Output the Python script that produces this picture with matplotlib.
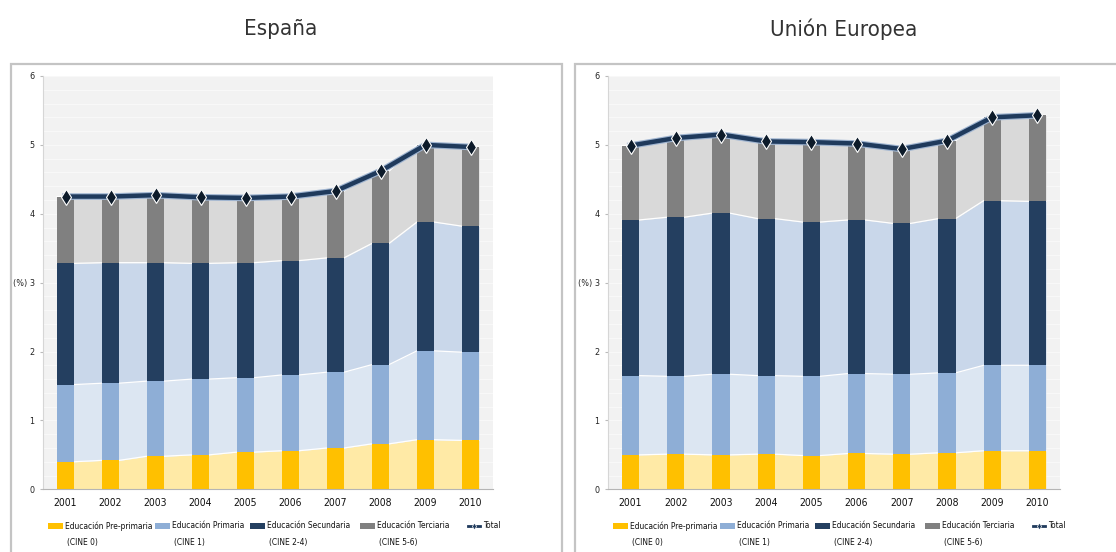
import numpy as np
import matplotlib.pyplot as plt
import matplotlib.patheffects as pe
from matplotlib.patches import Rectangle
from matplotlib.lines import Line2D

plt.rcParams['font.family'] = ['DejaVu Sans']
plt.rcParams['font.stretch'] = 'condensed'

years = ['2001', '2002', '2003', '2004', '2005', '2006', '2007', '2008', '2009', '2010']

# gasto publico en educacion (% PIB) por nivel
es_pre = [0.40, 0.42, 0.48, 0.50, 0.54, 0.56, 0.60, 0.66, 0.72, 0.71]
es_prim = [1.12, 1.12, 1.09, 1.10, 1.08, 1.10, 1.10, 1.15, 1.29, 1.28]
es_sec = [1.76, 1.75, 1.72, 1.68, 1.67, 1.66, 1.66, 1.76, 1.87, 1.83]
es_ter = [0.97, 0.96, 0.98, 0.96, 0.94, 0.93, 0.97, 1.05, 1.12, 1.15]

ue_pre = [0.50, 0.51, 0.50, 0.51, 0.49, 0.52, 0.51, 0.53, 0.56, 0.56]
ue_prim = [1.15, 1.13, 1.17, 1.14, 1.15, 1.16, 1.16, 1.16, 1.24, 1.24]
ue_sec = [2.26, 2.31, 2.34, 2.28, 2.24, 2.23, 2.19, 2.24, 2.39, 2.38]
ue_ter = [1.08, 1.15, 1.14, 1.12, 1.16, 1.11, 1.08, 1.13, 1.21, 1.25]

labels = ['Educación Pre-primaria', 'Educación Primaria', 'Educación Secundaria', 'Educación Terciaria', 'Total']
sublabels = ['(CINE 0)', '(CINE 1)', '(CINE 2-4)', '(CINE 5-6)', '']
dark = ['#ffc000', '#8eaed6', '#243f60', '#808080']
light = ['#ffeaa6', '#dce6f2', '#c9d7ea', '#d9d9d9']
line_col = '#1f3a5c'

W, H = 1116, 552
fig = plt.figure(figsize=(W / 100, H / 100), dpi=100)

# offsets (px) de cada entrada de leyenda desde el borde izquierdo del eje
leg_off = [5, 112, 207, 317, 425]


def draw(ax, layers, ax_left):
    x = np.arange(len(years))
    w = 0.38
    xs = np.column_stack([x - w / 2, x + w / 2]).ravel()
    bottom = np.zeros(len(years))
    for vals, dc, lc in zip(layers, dark, light):
        vals = np.array(vals)
        top = bottom + vals
        ax.fill_between(xs, np.repeat(bottom, 2), np.repeat(top, 2), color=lc, lw=0, zorder=1)
        ax.plot(xs, np.repeat(top, 2), color='white', lw=0.9, zorder=1.5)
        ax.bar(x, vals, w, bottom=bottom, color=dc, lw=0, zorder=2)
        bottom = top
    ax.plot(x, bottom, color=line_col, lw=3.2, zorder=4,
            path_effects=[pe.Stroke(linewidth=4.8, foreground='#9fb4d0'), pe.Normal()])
    ax.plot(x, bottom, ls='none', marker='d', ms=8.5, mfc='#0d1b2a', mec='white', mew=0.8, zorder=5)

    ax.set_xlim(-0.5, len(years) - 0.5)
    ax.set_ylim(0, 6)
    ax.set_facecolor('#f2f2f2')
    ax.set_yticks(range(7))
    ax.set_yticklabels(['0', '1', '2', '(%) 3', '4', '5', '6'])
    ax.set_yticks(np.arange(0, 6, 0.2), minor=True)
    ax.grid(True, which='both', axis='y', color='#f9f9f9', lw=0.7, zorder=0)
    ax.set_axisbelow(True)
    ax.set_xticks(x)
    ax.set_xticklabels(years)
    ax.tick_params(axis='x', length=0, labelsize=7.5, pad=6, colors='#111111')
    ax.tick_params(axis='y', which='major', length=2, labelsize=6.5, pad=4, colors='#bbbbbb', labelcolor='#222222')
    ax.tick_params(axis='y', which='minor', length=0)
    for s in ['top', 'right']:
        ax.spines[s].set_visible(False)
    ax.spines['left'].set_color('#d6d6d6')
    ax.spines['bottom'].set_color('#b5b5b5')

    # leyenda
    y1, y2 = 526, 542
    for i, off in enumerate(leg_off):
        px = ax_left + off
        if i < len(dark):
            fig.add_artist(Rectangle((px / W, 1 - (y1 + 3) / H), 15 / W, 6 / H,
                                     transform=fig.transFigure, color=dark[i], lw=0))
        else:
            fig.add_artist(Line2D([px / W, (px + 6) / W, (px + 12) / W], [1 - y1 / H] * 3,
                                  transform=fig.transFigure, color=line_col, lw=2, marker='d',
                                  ms=3.5, markevery=[1], mfc=line_col, mec='white', mew=0.5))
            px -= 2
        fig.text((px + 17) / W, 1 - y1 / H, labels[i], fontsize=6, va='center', ha='left', color='#111111')
        if sublabels[i]:
            fig.text((px + 19) / W, 1 - y2 / H, sublabels[i], fontsize=6, va='center', ha='left', color='#111111')


ax1 = fig.add_axes([43 / W, 1 - 489.3 / H, 450 / W, 413.3 / H])
draw(ax1, [es_pre, es_prim, es_sec, es_ter], 43)
ax2 = fig.add_axes([608 / W, 1 - 489.3 / H, 452 / W, 413.3 / H])
draw(ax2, [ue_pre, ue_prim, ue_sec, ue_ter], 608)

fig.text(281 / W, 1 - 29 / H, 'España', ha='center', va='center', fontsize=16, color='#333333')
fig.text(844 / W, 1 - 29 / H, 'Unión Europea', ha='center', va='center', fontsize=16, color='#333333')

for x0, x1 in [(11, 562), (575, 1130)]:
    fig.add_artist(Rectangle((x0 / W, -0.05), (x1 - x0) / W, (H - 64) / H + 0.05,
                             transform=fig.transFigure, fill=False, edgecolor='#c4c4c4', lw=1.6))

fig.savefig('out.png', dpi=100)
